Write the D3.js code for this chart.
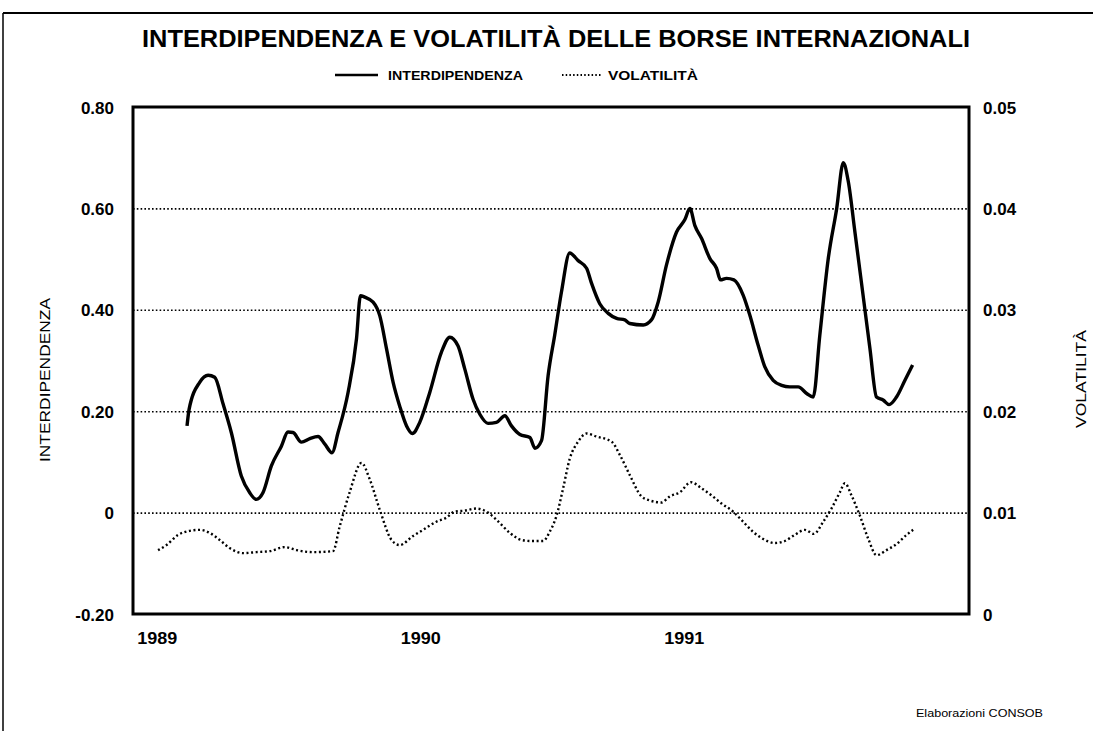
<!DOCTYPE html>
<html>
  <head>
    <title>Interdipendenza e volatilità</title>
    <script src="https://d3js.org/d3.v7.min.js"></script>
    <style>
      body { margin: 0; background: #fff; }
      text { font-family: "Liberation Sans", Arial, sans-serif; fill: #000; }
    </style>
  </head>
  <body>
    <svg width="1093" height="731"></svg>
    <script>
      // series: [decimal year, value]
      const interdipendenza = [
        [1989.115, 0.171], [1989.123, 0.204], [1989.163, 0.257], [1989.195, 0.271],
        [1989.220, 0.267], [1989.252, 0.214], [1989.283, 0.158], [1989.321, 0.072],
        [1989.353, 0.039], [1989.378, 0.026], [1989.403, 0.039], [1989.435, 0.092],
        [1989.473, 0.131], [1989.498, 0.159], [1989.517, 0.158], [1989.549, 0.139],
        [1989.581, 0.146], [1989.612, 0.150], [1989.638, 0.135], [1989.665, 0.118],
        [1989.688, 0.158], [1989.726, 0.237], [1989.758, 0.343], [1989.773, 0.428],
        [1989.789, 0.425], [1989.821, 0.415], [1989.846, 0.389], [1989.872, 0.323],
        [1989.897, 0.257], [1989.922, 0.210], [1989.948, 0.171], [1989.970, 0.156],
        [1989.998, 0.178], [1990.036, 0.237], [1990.080, 0.316], [1990.112, 0.346],
        [1990.143, 0.329], [1990.169, 0.283], [1990.200, 0.224], [1990.226, 0.194],
        [1990.257, 0.176], [1990.289, 0.178], [1990.321, 0.191], [1990.346, 0.171],
        [1990.378, 0.154], [1990.416, 0.148], [1990.435, 0.127], [1990.460, 0.142],
        [1990.485, 0.270], [1990.510, 0.350], [1990.536, 0.436], [1990.567, 0.512],
        [1990.599, 0.497], [1990.631, 0.482], [1990.650, 0.452], [1990.681, 0.412],
        [1990.713, 0.393], [1990.745, 0.383], [1990.776, 0.380], [1990.795, 0.373],
        [1990.846, 0.370], [1990.877, 0.380], [1990.903, 0.416], [1990.934, 0.488],
        [1990.972, 0.553], [1991.004, 0.578], [1991.023, 0.600], [1991.042, 0.566],
        [1991.067, 0.541], [1991.099, 0.501], [1991.124, 0.482], [1991.139, 0.459],
        [1991.162, 0.462], [1991.190, 0.459], [1991.225, 0.429], [1991.250, 0.390],
        [1991.282, 0.330], [1991.307, 0.288], [1991.339, 0.261], [1991.371, 0.251],
        [1991.402, 0.248], [1991.434, 0.248], [1991.466, 0.235], [1991.491, 0.228],
        [1991.516, 0.350], [1991.548, 0.501], [1991.580, 0.600], [1991.605, 0.690],
        [1991.624, 0.653], [1991.649, 0.554], [1991.680, 0.429], [1991.706, 0.324],
        [1991.731, 0.228], [1991.756, 0.222], [1991.779, 0.213], [1991.807, 0.228],
        [1991.839, 0.261], [1991.868, 0.291]
      ];

      const volatilita = [
        [1989.005, 0.0063], [1989.037, 0.0068], [1989.081, 0.0078], [1989.125, 0.0082],
        [1989.163, 0.0083], [1989.201, 0.0080], [1989.239, 0.0073], [1989.277, 0.0065],
        [1989.328, 0.0060], [1989.378, 0.0061], [1989.429, 0.0062], [1989.486, 0.0066],
        [1989.530, 0.0063], [1989.593, 0.0061], [1989.669, 0.0062], [1989.694, 0.0086],
        [1989.732, 0.0120], [1989.777, 0.0149], [1989.808, 0.0133], [1989.846, 0.0103],
        [1989.891, 0.0073], [1989.922, 0.0068], [1989.973, 0.0077], [1990.011, 0.0083],
        [1990.061, 0.0091], [1990.099, 0.0095], [1990.131, 0.0101], [1990.169, 0.0102],
        [1990.213, 0.0104], [1990.257, 0.0100], [1990.289, 0.0093], [1990.340, 0.0080],
        [1990.384, 0.0073], [1990.422, 0.0072], [1990.466, 0.0072], [1990.491, 0.0081],
        [1990.517, 0.0097], [1990.542, 0.0124], [1990.567, 0.0153], [1990.599, 0.0170],
        [1990.631, 0.0178], [1990.669, 0.0175], [1990.726, 0.0170], [1990.757, 0.0157],
        [1990.795, 0.0137], [1990.839, 0.0116], [1990.871, 0.0112], [1990.915, 0.0110],
        [1990.947, 0.0116], [1990.985, 0.0120], [1991.027, 0.0130], [1991.067, 0.0124],
        [1991.105, 0.0117], [1991.143, 0.0109], [1991.187, 0.0101], [1991.225, 0.0091],
        [1991.263, 0.0081], [1991.301, 0.0074], [1991.345, 0.0070], [1991.383, 0.0072],
        [1991.421, 0.0078], [1991.459, 0.0083], [1991.493, 0.0079], [1991.529, 0.0091],
        [1991.560, 0.0104], [1991.592, 0.0120], [1991.611, 0.0129], [1991.636, 0.0117],
        [1991.668, 0.0097], [1991.700, 0.0074], [1991.731, 0.0058], [1991.769, 0.0063],
        [1991.807, 0.0069], [1991.845, 0.0078], [1991.870, 0.0083]
      ];

      const yearTicks = [1989, 1990, 1991];
      const leftTicks = [-0.2, 0, 0.2, 0.4, 0.6, 0.8];
      const rightTicks = [0, 0.01, 0.02, 0.03, 0.04, 0.05];
      const gridTicks = [0, 0.2, 0.4, 0.6];

      const svg = d3.select("svg");
      const frame = {left: 133, right: 969, top: 107, bottom: 614};
      const narrow = "'Liberation Sans Narrow', 'Liberation Sans', Arial, sans-serif";

      const x = d3.scaleLinear().domain([1988.91, 1992.082]).range([frame.left, frame.right]);
      const yL = d3.scaleLinear().domain([-0.2, 0.8]).range([frame.bottom, frame.top]);
      const yR = d3.scaleLinear().domain([0, 0.05]).range([frame.bottom, frame.top]);

      const loc = d3.formatLocale({decimal: ".", thousands: ",", grouping: [3], currency: ["", ""], minus: "-"});
      const fmt2 = loc.format(".2f");
      const tickFmt = d => d === 0 ? "0" : fmt2(d);

      // page border from the scan
      svg.append("line").attr("x1", 3).attr("x2", 1093).attr("y1", 13).attr("y2", 13)
        .attr("stroke", "#000").attr("stroke-width", 2);
      svg.append("line").attr("x1", 3).attr("x2", 3).attr("y1", 13).attr("y2", 731)
        .attr("stroke", "#000").attr("stroke-width", 1.5);

      // title
      svg.append("text")
        .attr("x", 556).attr("y", 47)
        .attr("text-anchor", "middle")
        .attr("font-family", narrow)
        .attr("font-size", 24).attr("font-weight", "bold")
        .attr("textLength", 828).attr("lengthAdjust", "spacingAndGlyphs")
        .text("INTERDIPENDENZA E VOLATILITÀ DELLE BORSE INTERNAZIONALI");

      // legend
      const legend = svg.append("g");
      legend.append("line").attr("x1", 335).attr("x2", 378).attr("y1", 75).attr("y2", 75)
        .attr("stroke", "#000").attr("stroke-width", 2.4);
      legend.append("text").attr("x", 388).attr("y", 80).attr("font-size", 13)
        .attr("font-family", narrow).attr("font-weight", "bold")
        .attr("textLength", 135).attr("lengthAdjust", "spacingAndGlyphs")
        .text("INTERDIPENDENZA");
      legend.append("line").attr("x1", 562).attr("x2", 602).attr("y1", 75).attr("y2", 75)
        .attr("stroke", "#000").attr("stroke-width", 1.8).attr("stroke-dasharray", "1.5,2.2");
      legend.append("text").attr("x", 608).attr("y", 80).attr("font-size", 13)
        .attr("font-family", narrow).attr("font-weight", "bold")
        .attr("textLength", 90).attr("lengthAdjust", "spacingAndGlyphs")
        .text("VOLATILITÀ");

      // grid
      const grid = svg.append("g")
        .attr("transform", `translate(${frame.left},0)`)
        .call(d3.axisLeft(yL).tickValues(gridTicks).tickSize(-(frame.right - frame.left)).tickFormat(""));
      grid.select(".domain").remove();
      grid.selectAll(".tick line")
        .attr("stroke", "#000").attr("stroke-width", 1.6).attr("stroke-dasharray", "1.6,2.2");

      // left axis
      const ax = svg.append("g")
        .attr("transform", `translate(${frame.left},0)`)
        .call(d3.axisLeft(yL).tickValues(leftTicks).tickSize(0).tickPadding(19).tickFormat(tickFmt));
      ax.select(".domain").remove();
      ax.selectAll("text").attr("font-size", 17).attr("font-weight", "bold")
        .attr("font-family", "Liberation Sans, Arial, sans-serif").attr("dy", "0.36em");

      // right axis
      const ar = svg.append("g")
        .attr("transform", `translate(${frame.right},0)`)
        .call(d3.axisRight(yR).tickValues(rightTicks).tickSize(0).tickPadding(14).tickFormat(tickFmt));
      ar.select(".domain").remove();
      ar.selectAll("text").attr("font-size", 17).attr("font-weight", "bold")
        .attr("font-family", "Liberation Sans, Arial, sans-serif").attr("dy", "0.36em");

      // bottom axis
      const axb = svg.append("g")
        .attr("transform", `translate(0,${frame.bottom})`)
        .call(d3.axisBottom(x).tickValues(yearTicks).tickSize(0).tickPadding(19).tickFormat(d3.format("d")));
      axb.select(".domain").remove();
      axb.selectAll("text").attr("font-size", 16).attr("font-weight", "bold")
        .attr("font-family", "Liberation Sans, Arial, sans-serif")
        .attr("textLength", 40).attr("lengthAdjust", "spacingAndGlyphs");

      // axis titles
      svg.append("text")
        .attr("transform", "translate(50,380) rotate(-90)")
        .attr("text-anchor", "middle").attr("font-size", 14)
        .attr("textLength", 164).attr("lengthAdjust", "spacingAndGlyphs")
        .text("INTERDIPENDENZA");
      svg.append("text")
        .attr("transform", "translate(1086,379) rotate(-90)")
        .attr("text-anchor", "middle").attr("font-size", 15)
        .attr("textLength", 98).attr("lengthAdjust", "spacingAndGlyphs")
        .text("VOLATILITÀ");

      // frame
      svg.append("rect")
        .attr("x", frame.left).attr("y", frame.top)
        .attr("width", frame.right - frame.left).attr("height", frame.bottom - frame.top)
        .attr("fill", "none").attr("stroke", "#000").attr("stroke-width", 3);

      // series
      const lineL = d3.line().x(d => x(d[0])).y(d => yL(d[1])).curve(d3.curveMonotoneX);
      const lineR = d3.line().x(d => x(d[0])).y(d => yR(d[1])).curve(d3.curveMonotoneX);

      svg.append("path").datum(volatilita)
        .attr("d", lineR).attr("fill", "none")
        .attr("stroke", "#000").attr("stroke-width", 2.4).attr("stroke-dasharray", "2,2.6");

      svg.append("path").datum(interdipendenza)
        .attr("d", lineL).attr("fill", "none")
        .attr("stroke", "#000").attr("stroke-width", 3.4).attr("stroke-linejoin", "round");

      // source
      svg.append("text")
        .attr("x", 916).attr("y", 717).attr("font-size", 11)
        .attr("textLength", 127).attr("lengthAdjust", "spacingAndGlyphs")
        .text("Elaborazioni CONSOB");
    </script>
  </body>
</html>
